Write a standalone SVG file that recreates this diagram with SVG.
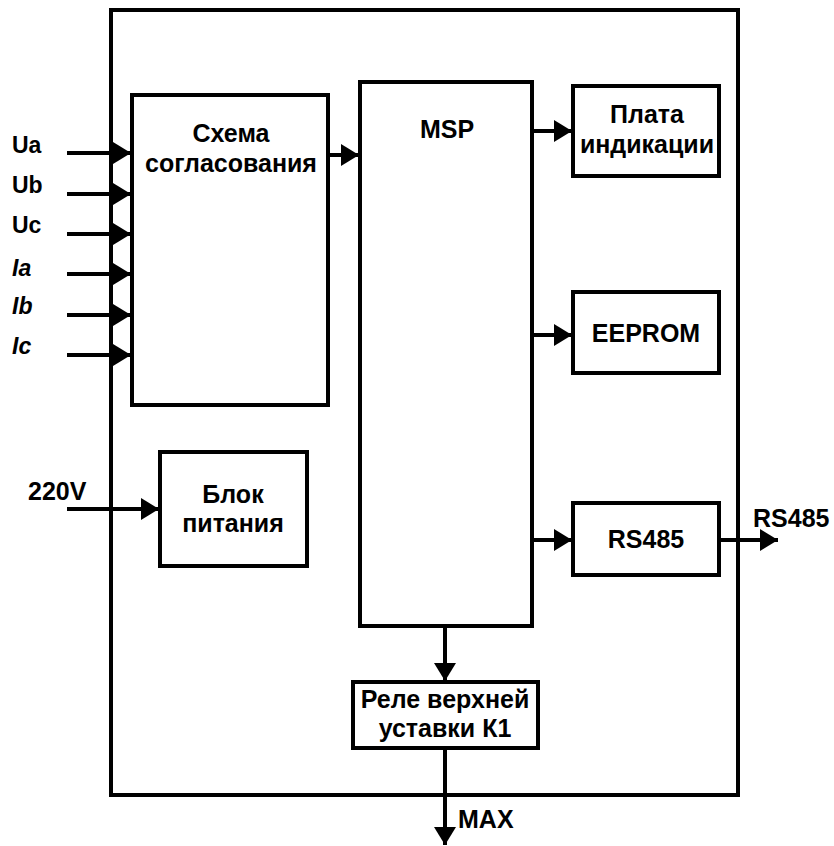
<svg xmlns="http://www.w3.org/2000/svg" width="834" height="846" viewBox="0 0 834 846">
<defs>
<marker id="ah" markerUnits="userSpaceOnUse" markerWidth="20" markerHeight="22" refX="18" refY="11" orient="auto">
<path d="M0,0 L18,11 L0,22 Z" fill="#000"/>
</marker>
<style>
.box{fill:#fff;stroke:#000;stroke-width:4}
.frame{fill:none;stroke:#000;stroke-width:4}
.ln{fill:none;stroke:#000;stroke-width:4}
.t{font-family:"Liberation Sans",Arial,sans-serif;font-weight:bold;font-size:25px;fill:#000}
.s{font-size:23px}
.c{text-anchor:middle}
.i{font-style:italic}
</style>
</defs>
<rect class="frame" x="111" y="10" width="627" height="785"/>
<g id="shema"><rect class="box" x="132" y="95" width="196" height="310"/><text class="t c" x="231" y="142">Схема</text><text class="t c" x="231" y="172">согласования</text></g>
<g id="msp"><rect class="box" x="360" y="82" width="172" height="544"/><text class="t c" x="447" y="138">MSP</text></g>
<g id="plata"><rect class="box" x="573" y="86" width="146" height="90"/><text class="t c" x="647" y="123">Плата</text><text class="t c" x="647" y="153">индикации</text></g>
<g id="eeprom"><rect class="box" x="573" y="292" width="146" height="81"/><text class="t c" x="646" y="342">EEPROM</text></g>
<g id="rs485"><rect class="box" x="573" y="503" width="146" height="72"/><text class="t c" x="646" y="548">RS485</text></g>
<g id="blok"><rect class="box" x="160" y="452" width="147" height="114"/><text class="t c" x="233" y="503">Блок</text><text class="t c" x="233" y="532">питания</text></g>
<g id="rele"><rect class="box" x="353" y="682" width="185" height="66"/><text class="t c" x="445" y="708">Реле верхней</text><text class="t c" x="445" y="737">уставки К1</text></g>
<g id="labels">
<text class="t s" x="12" y="153">Ua</text>
<text class="t s" x="12" y="193">Ub</text>
<text class="t s" x="12" y="233">Uc</text>
<text class="t s i" x="12" y="276">Ia</text>
<text class="t s i" x="12" y="314">Ib</text>
<text class="t s i" x="12" y="354">Ic</text>
<text class="t" x="28" y="500">220V</text>
<text class="t" x="753" y="527">RS485</text>
<text class="t" x="458" y="828">MAX</text>
</g>
<g id="connectors">
<line class="ln" x1="67" y1="153" x2="131" y2="153" marker-end="url(#ah)"/>
<line class="ln" x1="67" y1="194" x2="131" y2="194" marker-end="url(#ah)"/>
<line class="ln" x1="67" y1="234" x2="131" y2="234" marker-end="url(#ah)"/>
<line class="ln" x1="67" y1="274" x2="131" y2="274" marker-end="url(#ah)"/>
<line class="ln" x1="67" y1="315" x2="131" y2="315" marker-end="url(#ah)"/>
<line class="ln" x1="67" y1="355" x2="131" y2="355" marker-end="url(#ah)"/>
<line class="ln" x1="328" y1="155" x2="359" y2="155" marker-end="url(#ah)"/>
<line class="ln" x1="532" y1="131" x2="572" y2="131" marker-end="url(#ah)"/>
<line class="ln" x1="532" y1="335" x2="572" y2="335" marker-end="url(#ah)"/>
<line class="ln" x1="532" y1="540" x2="572" y2="540" marker-end="url(#ah)"/>
<line class="ln" x1="719" y1="540" x2="778" y2="540" marker-end="url(#ah)"/>
<line class="ln" x1="67" y1="509" x2="159" y2="509" marker-end="url(#ah)"/>
<line class="ln" x1="445" y1="626" x2="445" y2="681" marker-end="url(#ah)"/>
<line class="ln" x1="445" y1="748" x2="445" y2="845" marker-end="url(#ah)"/>
</g>
</svg>
